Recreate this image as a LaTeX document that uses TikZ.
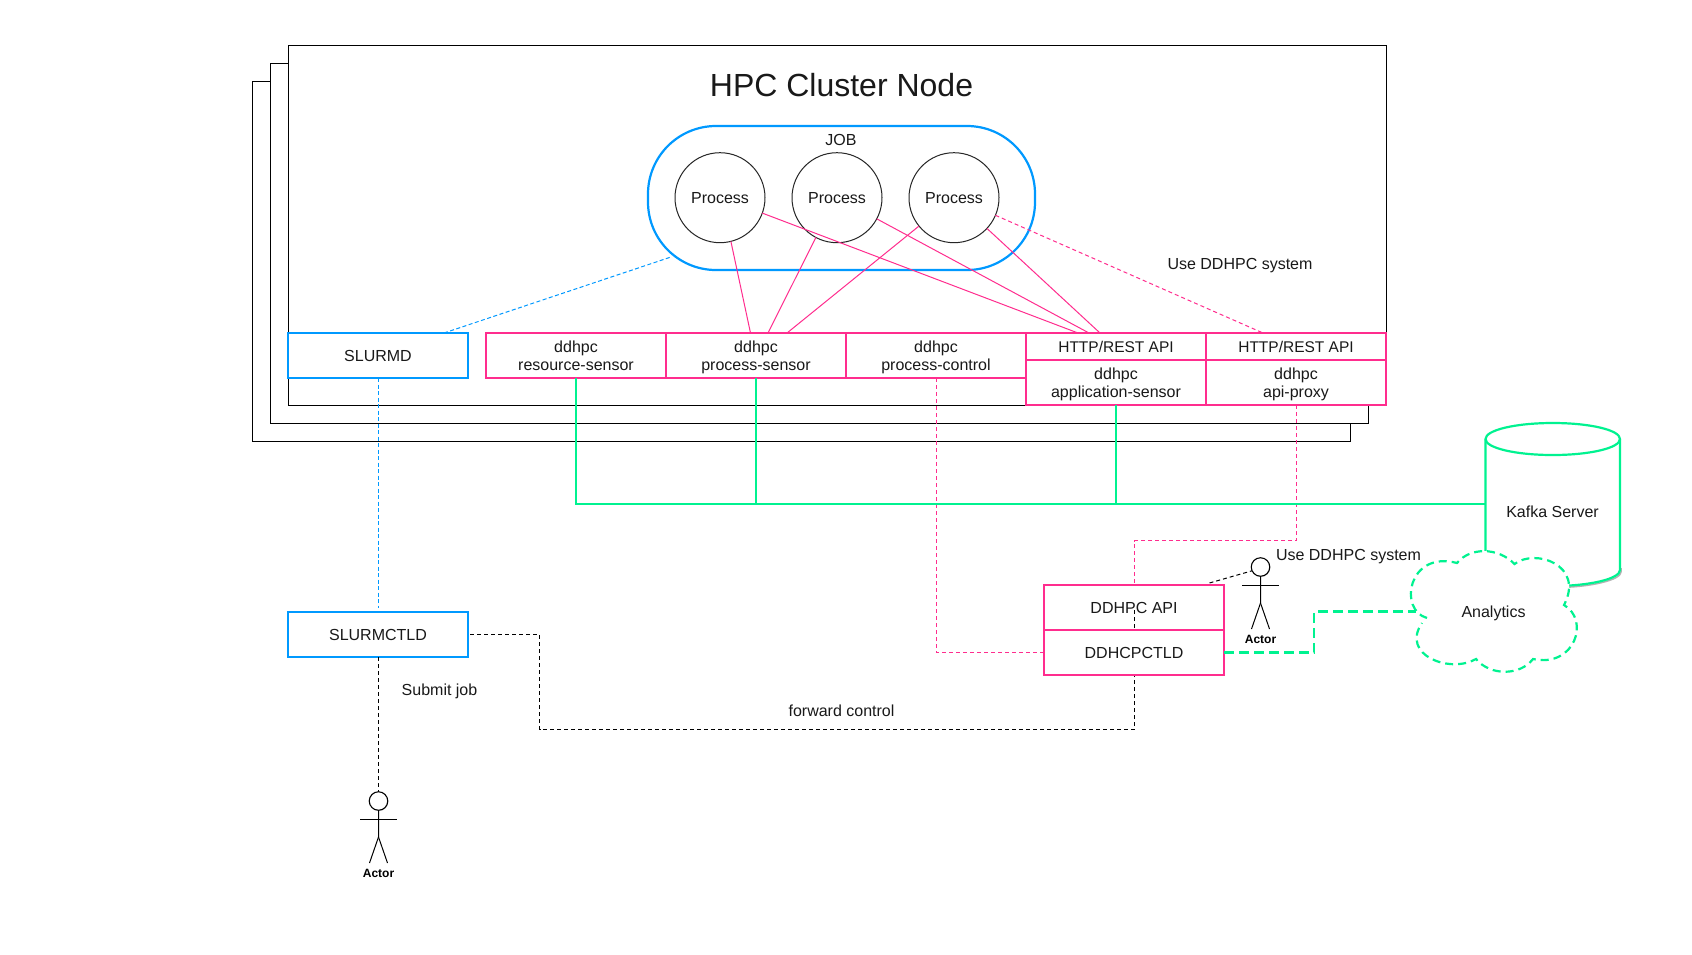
\documentclass[tikz,border=0pt]{standalone}
\usepackage{fontspec}
\setmainfont{Liberation Sans}
\usetikzlibrary{shadows,calc}
\definecolor{hotpink}{HTML}{FF2D8E}
\definecolor{skyblue}{HTML}{0099FF}
\definecolor{mintgreen}{HTML}{00F290}
\tikzset{
  base/.style={font=\fontsize{16}{18.3}\selectfont,text=black!90,align=center,text depth=-4pt},
  stackrect/.style={draw=black,line width=1pt,fill=white},
  pinkbox/.style={base,draw=hotpink,line width=2pt,fill=white,rectangle,minimum width=180pt,minimum height=45pt,inner sep=0pt,outer sep=0pt},
  bluebox/.style={pinkbox,draw=skyblue},
  proc/.style={base,draw=black!85,line width=1pt,fill=white,circle,minimum size=90pt,inner sep=0pt,outer sep=0pt},
  label/.style={base,inner sep=0pt},
  pinkthin/.style={draw=hotpink,line width=1pt},
  pinkdash/.style={draw=hotpink,line width=1pt,dash pattern=on 4pt off 3pt},
  bluedash/.style={draw=skyblue,line width=1pt,dash pattern=on 4pt off 2.5pt},
  blackdash/.style={draw=black,line width=1pt,dash pattern=on 4pt off 3pt},
  greenline/.style={draw=mintgreen,line width=2.5pt},
  greendash/.style={draw=mintgreen,line width=2.2pt,dash pattern=on 10pt off 5pt},
  actorhead/.style={circle,draw=black,line width=1.1pt,fill=white,minimum size=18.5pt,inner sep=0pt,outer sep=0pt,drop shadow={shadow xshift=.6pt,shadow yshift=-.8pt,opacity=.35}},
  actorline/.style={draw=black,line width=1pt},
}
\newcommand{\actorfig}[3]{%
  \begin{scope}[shift={(#2,#3)}]
    \node[actorhead] (#1) at (0,0) {};
    \draw[actorline] (#1.south) -- (0,36) -- (-9,62);
    \draw[actorline] (0,36) -- (9,62);
    \draw[actorline] (-18.5,18.5) -- (18.5,18.5);
    \node[inner sep=0pt,font=\fontsize{12}{14}\selectfont\bfseries] (#1label) at (0,72) {Actor};
  \end{scope}}
\begin{document}
\begin{tikzpicture}[x=1pt,y=-1pt]
\useasboundingbox (0,0) rectangle (1692,954);
\fill[white] (0,0) rectangle (1692,954);
% stacked cluster frames
\draw[stackrect] (252.5,81.5) rectangle (1350.5,441.5);
\draw[stackrect] (270.5,63.5) rectangle (1368.5,423.5);
\draw[stackrect] (288.5,45.5) rectangle (1386.5,405.5);
\node[label,font=\fontsize{32}{36}\selectfont,text depth=0pt] (title) at (841.5,85) {HPC Cluster Node};
% job
\node[draw=skyblue,line width=2.2pt,rounded corners=68pt,minimum width=387pt,minimum height=144pt,inner sep=0pt,outer sep=0pt] (job) at (841.5,198) {};
\node[label] (joblabel) at (841,140) {JOB};
\node[proc] (p1) at (720,197.7) {Process};
\node[proc] (p2) at (837,197.7) {Process};
\node[proc] (p3) at (954,197.7) {Process};
% boxes
\node[bluebox] (slurmd) at (378,355.5) {SLURMD};
\node[pinkbox] (rsens) at (576,355.5) {ddhpc\\resource-sensor};
\node[pinkbox] (psens) at (756,355.5) {ddhpc\\process-sensor};
\node[pinkbox] (pctrl) at (936,355.5) {ddhpc\\process-control};
\node[pinkbox,minimum height=27pt,font=\fontsize{15.5}{18}\selectfont] (apphttp) at (1116,346.5) {HTTP/REST API};
\node[pinkbox] (appsens) at (1116,382.5) {ddhpc\\application-sensor};
\node[pinkbox,minimum height=27pt,font=\fontsize{15.5}{18}\selectfont] (proxyhttp) at (1296,346.5) {HTTP/REST API};
\node[pinkbox] (proxy) at (1296,382.5) {ddhpc\\api-proxy};
% process links
\draw[pinkthin] (p1.-76) -- ([xshift=-5.5pt]psens.north);
\draw[pinkthin] (p2.-118) -- ([xshift=12pt]psens.north);
\draw[pinkthin] (p3.-141) -- ([xshift=31pt]psens.north);
\draw[pinkthin] (p1.-20) -- ([xshift=-38pt]apphttp.north);
\draw[pinkthin] (p2.-28) -- ([xshift=-27pt]apphttp.north);
\draw[pinkthin] (p3.-43) -- ([xshift=-16pt]apphttp.north);
\draw[pinkdash] (p3.-23) -- ([xshift=-33pt]proxyhttp.north);
\node[label] (use1) at (1240,263.5) {Use DDHPC system};
\coordinate (jobtip) at (671,257);
\draw[bluedash] ([xshift=66pt]slurmd.north) -- (jobtip);
% lower boxes
\node[bluebox] (slurmctld) at (378,634.5) {SLURMCTLD};
\draw[bluedash] ([xshift=.5pt]slurmd.south) -- ([xshift=.5pt,yshift=4pt]slurmctld.north);
\node[pinkbox] (api) at (1134,607.5) {DDHPC API};
\coordinate (fwdB) at (539.5,729.5);
\draw[blackdash] ([xshift=2pt]slurmctld.east) -| (fwdB) -| ([xshift=.5pt]api.center);
\node[pinkbox] (ctld) at (1134,652.5) {DDHCPCTLD};
\node[label] (fwdlabel) at (841.5,710.5) {forward control};
\coordinate (apiturn) at (1134.5,540.5);
\draw[pinkdash] ([xshift=.5pt]proxy.south) |- (apiturn) -- ([xshift=.5pt]api.north);
\draw[pinkdash] ([xshift=.5pt]pctrl.south) |- (ctld.west);
% kafka
\draw[draw=black!30,line width=1.5pt] (1621,568) -- (1621,572) .. controls (1621,580) and (1590,587.5) .. (1555,587.5);
\draw[draw=mintgreen,line width=2.2pt,fill=white] (1485.5,439) .. controls (1485.5,430) and (1515.6,423) .. (1552.75,423) .. controls (1589.9,423) and (1620,430) .. (1620,439) -- (1620,570) .. controls (1620,578.8) and (1589.9,586) .. (1552.75,586) .. controls (1515.6,586) and (1485.5,578.8) .. (1485.5,570) -- cycle;
\draw[draw=mintgreen,line width=2.2pt] (1485.5,439) .. controls (1485.5,448) and (1515.6,455) .. (1552.75,455) .. controls (1589.9,455) and (1620,448) .. (1620,439);
\node[label] (kafka) at (1552.5,512) {Kafka Server};
\coordinate (kafkaleft) at (1485.5,504);
\draw[greenline] (rsens.south) |- (kafkaleft);
\draw[greenline] (psens.south) -- (psens.south |- kafkaleft);
\draw[greenline] (appsens.south) -- (appsens.south |- kafkaleft);
% cloud
\draw[draw=mintgreen,line width=2.2pt,dash pattern=on 8pt off 5pt,fill=white] (1427,618) .. controls (1398,610) and (1408,550) .. (1457,563) .. controls (1470,547) and (1498,547) .. (1514.5,564) .. controls (1535,548) and (1585,565) .. (1564,605) .. controls (1590,620) and (1575,668) .. (1533,659) .. controls (1520,676) and (1490,676) .. (1476,659) .. controls (1450,674) and (1400,655) .. (1422,623);
\node[label] (analytics) at (1493.5,612) {Analytics};
\coordinate (cloudleft) at (1416,611.5);
\draw[greendash] (ctld.east) -| ($(ctld.east)!.5!(cloudleft)+(-6,0)$) |- (cloudleft);
% actors
\actorfig{actorA}{378.5}{801}
\actorfig{actorB}{1260.5}{567}
\draw[blackdash] ([xshift=.5pt]slurmctld.south) -- (actorA.north);
\draw[blackdash] ([xshift=75.5pt,yshift=2pt]api.north) -- (actorB.-156);
\node[label] (use2) at (1348.5,554.5) {Use DDHPC system};
\node[label] (submit) at (439.5,690) {Submit job};
\end{tikzpicture}
\end{document}
